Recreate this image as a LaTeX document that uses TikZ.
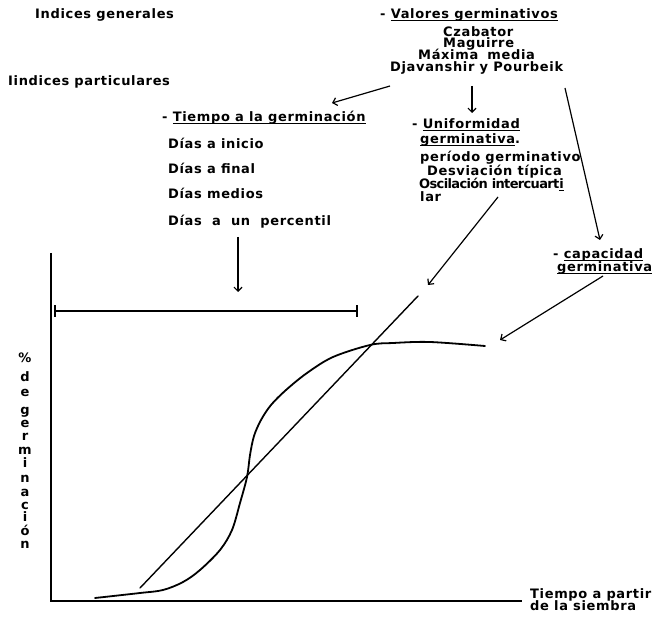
\documentclass[tikz,border=0pt]{standalone}
\usepackage{fontspec}
\setmainfont{DejaVu Sans}[UprightFont={* Bold}, BoldFont={* Bold}, LetterSpace=5]
\newfontfamily\condfont{DejaVu Sans}[UprightFont={* Bold}, BoldFont={* Bold}, LetterSpace=-5]
\usetikzlibrary{arrows.meta}
\newcommand\myul[1]{\setbox0\hbox{#1}\rlap{\rule[-2.4pt]{\wd0}{0.9pt}}\box0}
\tikzset{
  txt/.style={anchor=base west, inner sep=0pt, font=\fontsize{13}{15}\selectfont},
  ylet/.style={anchor=base, inner sep=0pt, font=\fontsize{13}{15}\selectfont},
  conn/.style={line width=1.2pt, -{Straight Barb[length=4pt,width=8pt]}},
  axisline/.style={line width=1.8pt},
  curveline/.style={line width=1.8pt, line cap=round},
  thinline/.style={line width=1.4pt, line cap=round},
}
\begin{document}
\begin{tikzpicture}[x=1pt,y=-1pt]
\useasboundingbox (0,0) rectangle (658,617);
% top-left headings
\node[txt] (gen) at (35,19) {Indices generales};
\node[txt] (part) at (8,86) {Iindices particulares};
% valores germinativos
\node[txt] (val) at (380,19) {- \myul{Valores germinativos}};
\node[txt] (czab) at (443,37) {Czabator};
\node[txt] (magu) at (443,48) {Maguirre};
\node[txt] (maxi) at (418,60) {Máxima\hspace{4pt} media};
\node[txt] (djav) at (390,72) {Djavanshir y Pourbeik};
% tiempo a la germinacion
\node[txt] (tit) at (162,122) {- \myul{Tiempo a la germinación}};
\node[txt] (d1) at (168,149) {Días a inicio};
\node[txt] (d2) at (168,174) {Días a final};
\node[txt] (d3) at (168,199) {Días medios};
\node[txt] (d4) at (168,226) {Días\hspace{5pt} a\hspace{5pt} un\hspace{5pt} percentil};
% uniformidad
\node[txt] (unif) at (412,129) {- \myul{Uniformidad}};
\node[txt] (ugerm) at (420,144) {\myul{germinativa}.};
\node[txt] (per) at (420,162) {período germinativo};
\node[txt] (desv) at (427,176) {Desviación típica};
\node[txt] (osc) at (419,189) {\condfont Oscilación intercuart\myul{i}};
\node[txt] (lar) at (420,202) {lar};
% capacidad
\node[txt] (cap) at (553,259) {- \myul{capacidad}};
\node[txt] (capg) at (557,272) {\myul{germinativa}};
% axis label x
\node[txt] (tpart) at (530,598) {Tiempo a partir};
\node[txt] (tsiem) at (530,610) {de la siembra};
% axis label y
\foreach \ch/\yy [count=\i] in {\%/362,d/381,e/396,g/414,e/427,r/440,m/454,i/467,n/482,a/496,c/509,i/521,ó/535,n/548}
  \node[ylet] (ylab\i) at (25,\yy) {\ch};
% connector end points
\coordinate (a1s) at (390,86);  \coordinate (a1e) at (332,103);
\coordinate (a2s) at (472,86);  \coordinate (a2e) at (472,113);
\coordinate (a3s) at (565,88);  \coordinate (a3e) at (600,240);
\coordinate (a4s) at (238,237); \coordinate (a4e) at (238,292);
\coordinate (a5s) at (498,197); \coordinate (a5e) at (428,285);
\coordinate (a6s) at (603,276); \coordinate (a6e) at (500,340);
\draw[conn] (a1s) -- (a1e);
\draw[conn] (a2s) -- (a2e);
\draw[conn] (a3s) -- (a3e);
\draw[conn] (a4s) -- (a4e);
\draw[conn] (a5s) -- (a5e);
\draw[conn] (a6s) -- (a6e);
% interval bar
\coordinate (bl) at (55,311); \coordinate (br) at (357,311);
\draw[line width=1.2pt] (bl) -- (br);
\draw[line width=1.4pt] ([yshift=-6pt]bl) -- ([yshift=6pt]bl);
\draw[line width=1.4pt] ([yshift=-6pt]br) -- ([yshift=6pt]br);
% axes
\coordinate (orig) at (51,601);
\coordinate (ytop) at (51,253);
\coordinate (xend) at (522,601);
\draw[axisline] (ytop) -- (orig) -- (xend);
% straight line
\coordinate (ls) at (140,588); \coordinate (le) at (418,296);
\draw[thinline] (ls) -- (le);
% S curve
\draw[curveline] plot[smooth, tension=0.55] coordinates {
  (95,598) (140,593) (163,590) (183,582) (200,570) (220,550) (232,530)
  (240,503) (247,477) (250,455) (254,436) (261,420) (271,405) (286,390)
  (307,373) (333,357) (370,345) (393,343) (430,342) (485,346)};
\end{tikzpicture}
\end{document}
